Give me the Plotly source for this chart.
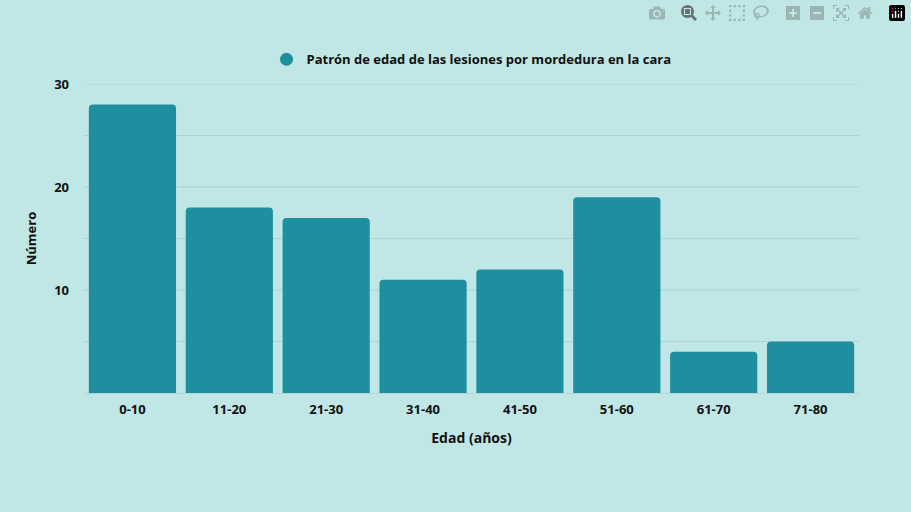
import plotly.graph_objects as go

categories = ["0-10","11-20","21-30","31-40","41-50","51-60","61-70","71-80"]
values = [28, 18, 17, 11, 12, 19, 4, 5]
series_name = "Patrón de edad de las lesiones por mordedura en la cara"

fam = "Open Sans"
fnt = dict(family=fam, size=13, color="#111111", weight="bold")
fig = go.Figure()
fig.add_trace(go.Bar(x=categories, y=values, name=series_name,
                     marker=dict(color="#1e8f9e", cornerradius=4, line=dict(width=0)),
                     showlegend=False))
fig.add_trace(go.Scatter(x=[None], y=[None], mode="markers", name=series_name,
                         marker=dict(color="#1e8f9e", size=13, symbol="circle")))
fig.update_layout(
    width=911, height=512, paper_bgcolor="#c0e6e5", plot_bgcolor="#c0e6e5",
    margin=dict(l=84, r=52, t=84, b=119, autoexpand=False), bargap=0.1, font=fnt,
    legend=dict(orientation="h", x=0.5, xanchor="center", y=1.08, yanchor="middle",
                font=dict(size=13, family=fam, weight="bold")),
    xaxis=dict(title=dict(text="Edad (años)", font=dict(size=14), standoff=16),
               showgrid=False, ticks="", ticklabelstandoff=4, automargin=False,
               showline=True, linecolor="#aed8d8"),
    yaxis=dict(title=dict(text="Número", font=dict(size=13), standoff=14),
               range=[0, 30], tickvals=[10, 20, 30], showgrid=False, automargin=False,
               ticks="", zeroline=False, ticklabelstandoff=14),
)
for v in [5, 10, 15, 20, 25, 30]:
    fig.add_shape(type="line", xref="paper", x0=0, x1=1, y0=v, y1=v,
                  line=dict(color="#a6d6d6", width=1), layer="below")
fig.write_html("out.html",
               post_script="document.body.style.margin='0';document.body.style.background='#c0e6e5';")
